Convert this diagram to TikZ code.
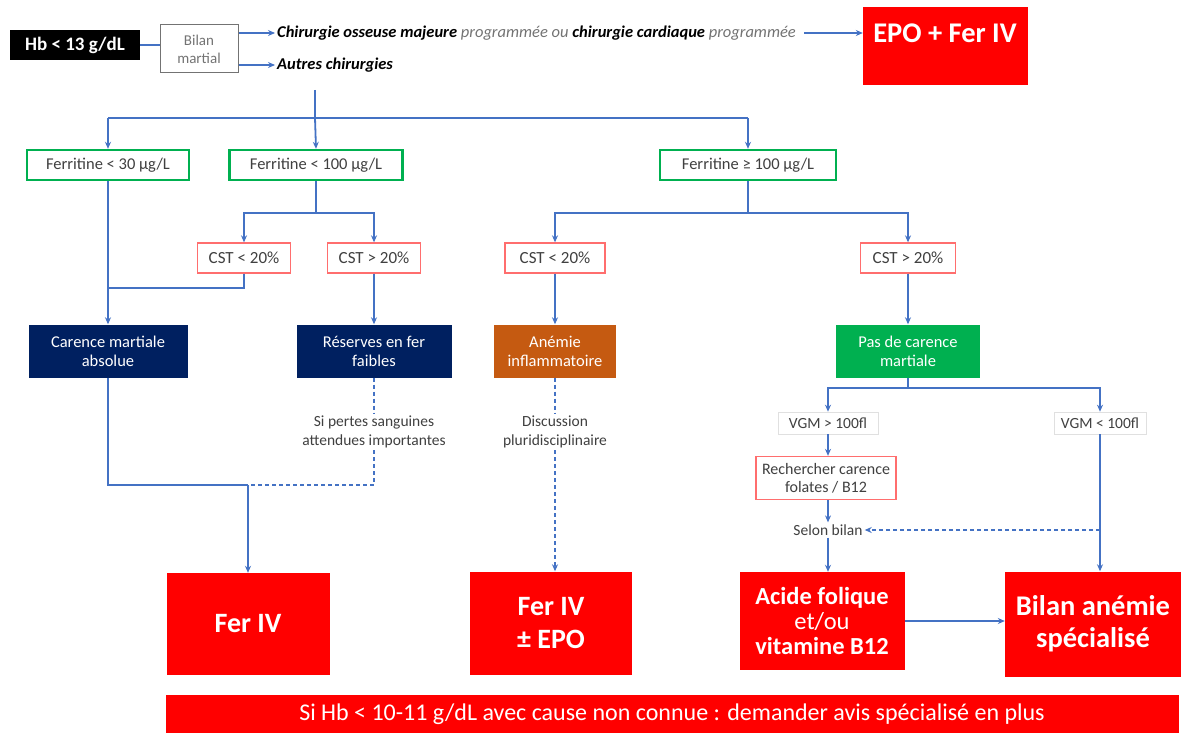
\documentclass[tikz,border=0pt]{standalone}
\usepackage{fontspec}
\setmainfont{Carlito}
\usetikzlibrary{arrows.meta}
\definecolor{lblue}{RGB}{68,114,196}
\definecolor{fgreen}{RGB}{0,176,80}
\definecolor{lred}{RGB}{255,110,110}
\definecolor{navy}{RGB}{0,32,96}
\definecolor{orng}{RGB}{197,90,17}
\definecolor{txtgray}{RGB}{64,64,64}
\begin{document}
\begin{tikzpicture}[x=1pt,y=-1pt,
  line/.style={draw=lblue, line width=1.8pt},
  arr/.style={line, -{Stealth[length=7pt,width=6pt]}},
  darr/.style={arr, dash pattern=on 4pt off 3pt},
  dline/.style={line, dash pattern=on 4pt off 3pt},
  ferbox/.style={draw=fgreen, line width=2.4pt, fill=white, text=txtgray, font=\fontsize{16.5}{19}\selectfont, minimum height=30, inner sep=1pt},
  cstbox/.style={draw=lred, line width=1.3pt, fill=white, text=txtgray, font=\fontsize{17}{19}\selectfont, minimum height=30, inner sep=1pt},
  darkbox/.style={fill=#1, text=white, font=\fontsize{16.5}{19}\selectfont, align=center, minimum height=53, inner sep=1pt},
  redbox/.style={fill=red, text=white, font=\bfseries\fontsize{28}{33}\selectfont, align=center, inner sep=2pt},
  note/.style={text=txtgray, font=\fontsize{15.5}{19}\selectfont, align=center, fill=white, inner sep=2pt},
  vgmbox/.style={draw=black!12, line width=0.6pt, fill=white, text=txtgray, font=\fontsize{15.5}{18}\selectfont, minimum height=22, inner sep=3pt},
]
\useasboundingbox (0,0) rectangle (1181,733);

% top row
\node[fill=black, text=white, font=\bfseries\fontsize{19}{22}\selectfont, minimum width=130, minimum height=30, inner sep=1pt] (hb) at (75,45) {Hb < 13 g/dL};
\node[draw=black!55, line width=1pt, text=black!55, font=\fontsize{15}{18}\selectfont, align=center, minimum width=78, minimum height=48, inner sep=1pt] (bilan) at (199,49) {Bilan\\martial};
\node[anchor=west, font=\fontsize{16.5}{19}\selectfont, inner sep=2pt] (chir) at (275,33) {\textbf{\textit{Chirurgie osseuse majeure}} {\color{black!55}\textit{programmée ou}} \textbf{\textit{chirurgie cardiaque}} {\color{black!55}\textit{programmée}}};
\node[anchor=west, font=\bfseries\itshape\fontsize{16.5}{19}\selectfont, inner sep=2pt] (autres) at (275,65) {Autres chirurgies};
\node[fill=red, minimum width=165, minimum height=78] (epo) at (945.5,46) {};
\node[text=white, font=\bfseries\fontsize{28.5}{33}\selectfont] (epot) at (945,33) {EPO + Fer IV};
\coordinate (top0) at (315,90);
\coordinate (bus) at (315,118);

% ferritine
\node[ferbox, minimum width=162] (fer30) at (108,165) {Ferritine < 30 µg/L};
\node[ferbox, minimum width=173] (fer100) at (316,165) {Ferritine < 100 µg/L};
\node[ferbox, minimum width=176] (ferge) at (748,165) {Ferritine ≥ 100 µg/L};

% CST
\node[cstbox, minimum width=93] (cst1) at (244,258) {CST < 20\%};
\node[cstbox, minimum width=93] (cst2) at (374,258) {CST > 20\%};
\node[cstbox, minimum width=100] (cst3) at (555,258) {CST < 20\%};
\node[cstbox, minimum width=95] (cst4) at (908,258) {CST > 20\%};

% diagnosis boxes
\node[darkbox=navy, minimum width=159] (car) at (108,351) {Carence martiale\\absolue};
\node[darkbox=navy, minimum width=155] (res) at (374,351) {Réserves en fer\\faibles};
\node[darkbox=orng, minimum width=122] (ane) at (555,351) {Anémie\\inflammatoire};
\node[darkbox=fgreen, minimum width=144] (pas) at (908,351) {Pas de carence\\martiale};

% notes
\node[note] (pertes) at (374,432) {Si pertes sanguines\\attendues importantes};
\node[note] (disc) at (555,432) {Discussion\\pluridisciplinaire};
\node[vgmbox, minimum width=100] (vgm1) at (828,423) {VGM > 100fl};
\node[vgmbox, minimum width=92] (vgm2) at (1100,423) {VGM < 100fl};
\node[draw=lred, line width=1.3pt, fill=white, text=txtgray, font=\fontsize{16}{18}\selectfont, align=center, minimum width=140, minimum height=43, inner sep=1pt] (rech) at (826,478) {Rechercher carence\\folates / B12};
\node[note] (selon) at (828,530) {Selon bilan};

% treatments
\node[redbox, minimum width=163, minimum height=102] (feriv) at (248,624) {Fer IV};
\node[redbox, minimum width=162, minimum height=103] (ferepo) at (551,623) {Fer IV\\± EPO};
\node[redbox, minimum width=165, minimum height=98, font=\bfseries\fontsize{24.5}{25}\selectfont] (acide) at (822,621) {Acide folique\\{\mdseries et/ou}\\vitamine B12};
\node[redbox, minimum width=176, minimum height=105, font=\bfseries\fontsize{28.5}{32}\selectfont] (bilana) at (1093,624) {Bilan anémie\\spécialisé};
\node[fill=red, text=white, font=\fontsize{24}{28}\selectfont, minimum width=1013, minimum height=38, inner sep=0pt] (banner) at (672,714) {Si Hb < 10-11 g/dL avec cause non connue : demander avis spécialisé en plus};

% connectors, top
\draw[line] (hb.east) -- (bilan.west |- hb.east);
\draw[arr] (bilan.east |- chir.west) -- (chir.west);
\draw[arr] (bilan.east |- autres.west) -- (autres.west);
\draw[arr] ([xshift=6pt]chir.east) -- (chir.east -| epo.west);
\draw[line] (top0) -- (bus);
\draw[line] (bus) -- (bus -| fer30.north);
\draw[line] (bus) -- (bus -| ferge.north);
\draw[arr] (bus -| fer30.north) -- (fer30.north);
\draw[arr] (bus) -- (fer100.north);
\draw[arr] (bus -| ferge.north) -- (ferge.north);

% ferritine < 100 branch
\draw[line] (fer100.south) -- ++(0,32) coordinate (b2);
\draw[arr] (b2) -| (cst1.north);
\draw[arr] (b2) -| (cst2.north);
% ferritine >= 100 branch
\draw[line] (ferge.south) -- ++(0,32) coordinate (b3);
\draw[arr] (b3) -| (cst3.north);
\draw[arr] (b3) -| (cst4.north);

% left column
\coordinate (m1) at (108,288);
\draw[arr] (fer30.south) -- (car.north);
\draw[line] (cst1.south) |- (m1);
\draw[arr] (cst2.south) -- (res.north);
\coordinate (j1) at (248,485);
\draw[line] (car.south) |- (j1);
\draw[dline] (res.south) -- (pertes.north);
\draw[dline] (pertes.south) |- (j1);
\draw[arr] (j1) -- (feriv.north);

% middle column
\draw[arr] (cst3.south) -- (ane.north);
\draw[dline] (ane.south) -- (disc.north);
\draw[darr] (disc.south) -- (disc.south |- ferepo.north);

% right column
\draw[arr] (cst4.south) -- (pas.north);
\draw[line] (pas.south) -- ++(0,10) coordinate (b4);
\draw[arr] (b4) -| (vgm1.north);
\draw[arr] (b4) -| (vgm2.north);
\draw[arr] (vgm1.south) -- (vgm1.south |- rech.north);
\draw[arr] (rech.south -| selon.north) -- (selon.north);
\draw[arr] (selon.south) -- (selon.south |- acide.north);
\draw[arr] (vgm2.south) -- (vgm2.south |- bilana.north);
\draw[darr] (vgm2.south |- selon.east) -- (selon.east);
\draw[arr] (acide.east) -- (bilana.west |- acide.east);
\end{tikzpicture}
\end{document}
